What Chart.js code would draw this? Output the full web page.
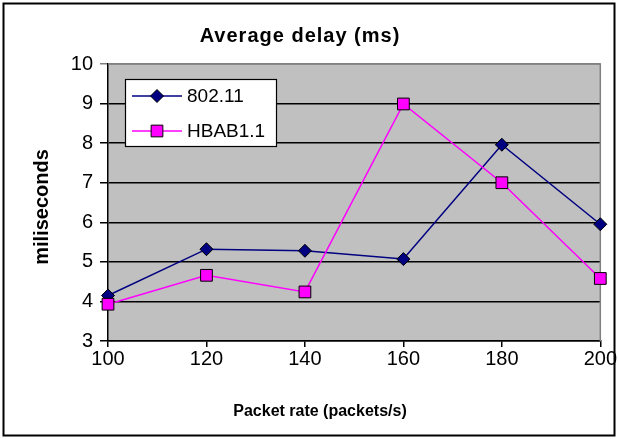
<!DOCTYPE html>
<html>
<head>
<meta charset="utf-8">
<script src="https://cdn.jsdelivr.net/npm/chart.js@4.4.0/dist/chart.umd.min.js"></script>
<style>
  html, body { margin: 0; padding: 0; background: #fff; }
</style>
</head>
<body>
<canvas id="delayChart" width="619" height="439"></canvas>
<script>
// values
const packetRates = [100, 120, 140, 160, 180, 200];
const delay80211 = [4.15, 5.32, 5.28, 5.07, 7.96, 5.95];
const delayHBAB = [3.93, 4.66, 4.24, 8.99, 7.0, 4.58];
const seriesNames = ['802.11', 'HBAB1.1'];
const xTicks = [100, 120, 140, 160, 180, 200];
const yTicks = [3, 4, 5, 6, 7, 8, 9, 10];

const FONT = "'Liberation Sans', Arial, sans-serif";

// white page, grey plot area, outer frame, and the three titles
const frame = {
  id: 'frame',
  beforeDraw(chart) {
    const { ctx, chartArea: a } = chart;
    ctx.save();
    ctx.fillStyle = '#fff';
    ctx.fillRect(0, 0, chart.width, chart.height);
    ctx.fillStyle = '#c0c0c0';
    ctx.fillRect(a.left, a.top, a.right - a.left, a.bottom - a.top);
    ctx.lineWidth = 2;
    ctx.strokeStyle = '#000';
    ctx.strokeRect(3.5, 3.5, chart.width - 8, chart.height - 7);
    ctx.restore();
  },
  beforeDatasetsDraw(chart) {
    const { ctx, chartArea: a } = chart;
    ctx.save();
    ctx.strokeStyle = '#808080';
    ctx.lineWidth = 1.5;
    ctx.beginPath();
    ctx.moveTo(a.left, a.top);
    ctx.lineTo(a.right, a.top);
    ctx.lineTo(a.right, a.bottom);
    ctx.stroke();
    ctx.restore();
  },
  afterDraw(chart) {
    const ctx = chart.ctx;
    ctx.save();
    ctx.fillStyle = '#000';
    ctx.textAlign = 'center';
    ctx.textBaseline = 'alphabetic';

    ctx.font = `bold 20px ${FONT}`;
    ctx.letterSpacing = '1px';
    ctx.fillText('Average delay (ms)', 300, 42);
    ctx.letterSpacing = '0px';

    ctx.font = `bold 16px ${FONT}`;
    ctx.fillText('Packet rate (packets/s)', 320, 416);

    ctx.translate(48, 207);
    ctx.rotate(-Math.PI / 2);
    ctx.font = `bold 20px ${FONT}`;
    ctx.fillText('miliseconds', 0, 0);
    ctx.restore();
  }
};

// legend box sitting inside the plot area
const boxLegend = {
  id: 'boxLegend',
  afterDatasetsDraw(chart) {
    const ctx = chart.ctx;
    ctx.save();
    ctx.fillStyle = '#fff';
    ctx.fillRect(125, 79, 151, 68);
    ctx.strokeStyle = '#000';
    ctx.lineWidth = 1.2;
    ctx.strokeRect(125.5, 79.5, 151, 67);
    chart.data.datasets.forEach((ds, i) => {
      const y = 96 + i * 35;
      ctx.strokeStyle = ds.borderColor;
      ctx.lineWidth = ds.borderWidth;
      ctx.beginPath();
      ctx.moveTo(132, y);
      ctx.lineTo(182, y);
      ctx.stroke();
      ctx.fillStyle = ds.pointBackgroundColor;
      ctx.strokeStyle = ds.pointBorderColor;
      ctx.lineWidth = ds.pointBorderWidth;
      Chart.helpers.drawPoint(ctx, { pointStyle: ds.pointStyle, radius: ds.pointRadius, borderWidth: ds.pointBorderWidth, rotation: 0 }, 157, y);
      ctx.fillStyle = '#000';
      ctx.font = `19px ${FONT}`;
      ctx.textAlign = 'left';
      ctx.textBaseline = 'middle';
      ctx.fillText(ds.label, 187, y + 1);
    });
    ctx.restore();
  }
};

function toPoints(values) {
  return packetRates.map((x, i) => ({ x: x, y: values[i] }));
}

new Chart(document.getElementById('delayChart'), {
  type: 'line',
  data: {
    datasets: [
      {
        label: seriesNames[0],
        data: toPoints(delay80211),
        borderColor: '#000080',
        borderWidth: 1.5,
        pointStyle: 'rectRot',
        pointRadius: 6.5,
        pointBackgroundColor: '#000080',
        pointBorderColor: '#000',
        pointBorderWidth: 1,
        tension: 0,
        clip: false,
        order: 1
      },
      {
        label: seriesNames[1],
        data: toPoints(delayHBAB),
        borderColor: '#ff00ff',
        borderWidth: 1.5,
        pointStyle: 'rect',
        pointRadius: 8.3,
        pointBackgroundColor: '#ff00ff',
        pointBorderColor: '#000',
        pointBorderWidth: 1,
        tension: 0,
        clip: false,
        order: 0
      }
    ]
  },
  options: {
    responsive: false,
    animation: false,
    devicePixelRatio: 1,
    layout: { padding: { top: 64, right: 17, bottom: 0, left: 0 } },
    plugins: {
      legend: { display: false },
      title: { display: false },
      tooltip: { enabled: false }
    },
    scales: {
      x: {
        type: 'linear',
        min: xTicks[0],
        max: xTicks[xTicks.length - 1],
        afterBuildTicks: s => { s.ticks = xTicks.map(v => ({ value: v })); },
        afterFit: s => { s.height = 98; },
        grid: { drawOnChartArea: false, drawTicks: true, tickLength: 6, color: '#000', lineWidth: 1.5 },
        border: { display: true, color: '#000', width: 1.5 },
        ticks: { color: '#000', padding: 2, maxRotation: 0, font: { family: FONT, size: 20, lineHeight: 1 } }
      },
      y: {
        min: yTicks[0],
        max: yTicks[yTicks.length - 1],
        afterBuildTicks: s => { s.ticks = yTicks.map(v => ({ value: v })); },
        afterFit: s => { s.width = 108; },
        grid: {
          drawTicks: true,
          tickLength: 8,
          lineWidth: 1.5,
          color: c => (c.tick && c.tick.value === yTicks[yTicks.length - 1]) ? '#808080' : '#000'
        },
        border: { display: true, color: '#000', width: 1.5 },
        ticks: { color: '#000', padding: 7, font: { family: FONT, size: 20, lineHeight: 1 } }
      }
    }
  },
  plugins: [frame, boxLegend]
});
</script>
</body>
</html>
